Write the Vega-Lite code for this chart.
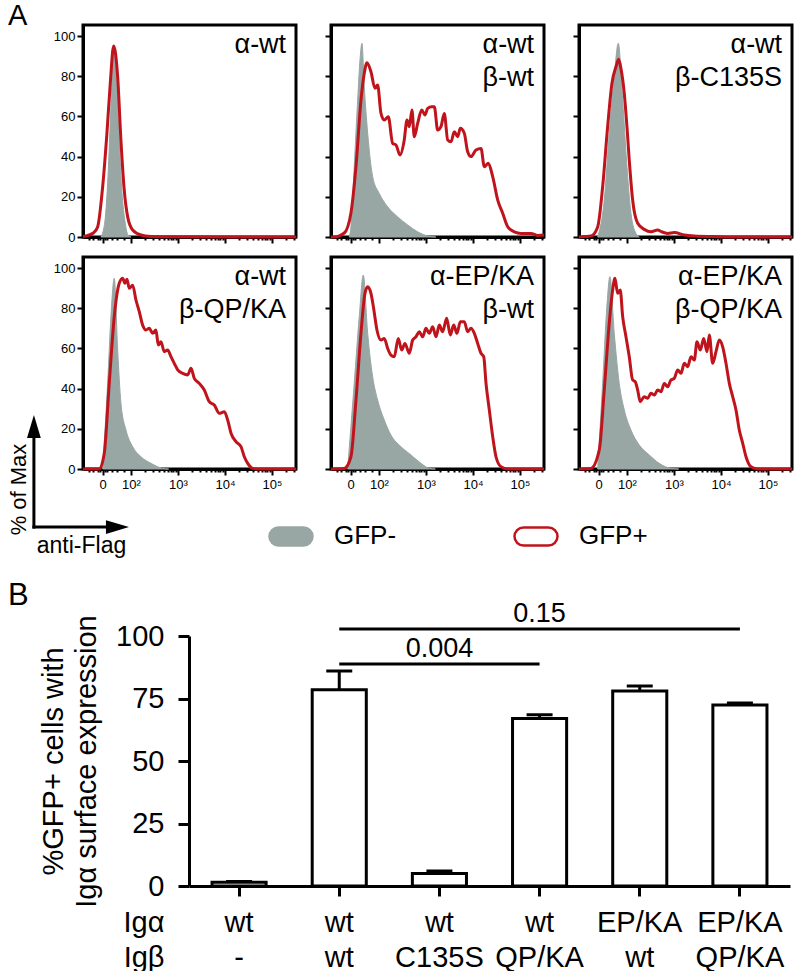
{
"$schema": "https://vega.github.io/schema/vega-lite/v6.json",
"padding": {"left": 5, "top": 0, "right": 0, "bottom": 0},
"background": "white",
"config": {
  "font": "Liberation Sans",
  "view": {"stroke": "black", "strokeWidth": 3},
  "axis": {"domainColor": "black", "domainWidth": 3, "tickColor": "black", "tickWidth": 2, "labelColor": "black", "labelFontSize": 13, "labelPadding": 2, "grid": false, "titleColor": "black", "titleFontWeight": "normal", "labelOverlap": false, "labelFlush": false, "zindex": 1},
  "legend": {"orient": "none", "legendX": 185, "legendY": 488, "direction": "horizontal", "padding": 0,
             "symbolType": "M-0.58,-0.42L0.58,-0.42A0.42,0.42 0 0 1 0.58,0.42L-0.58,0.42A0.42,0.42 0 0 1 -0.58,-0.42Z",
             "symbolSize": 1849, "symbolStrokeWidth": 2.5, "symbolOpacity": 1, "labelFontSize": 26, "labelOffset": 20, "columnPadding": 112, "labelColor": "black"},
  "title": {"fontWeight": "normal", "color": "black"},
  "text": {"color": "black"}
},
"datasets": {
  "gray": [
    {"p":1,"t":1.362,"y":0},{"p":1,"t":1.447,"y":8},{"p":1,"t":1.511,"y":30},{"p":1,"t":1.574,"y":65},{"p":1,"t":1.645,"y":94.7},{"p":1,"t":1.702,"y":75},{"p":1,"t":1.745,"y":50},{"p":1,"t":1.809,"y":22},{"p":1,"t":1.872,"y":8},{"p":1,"t":1.936,"y":1},{"p":1,"t":2.0,"y":0},
    {"p":2,"t":1.368,"y":0},{"p":2,"t":1.404,"y":5},{"p":2,"t":1.474,"y":35},{"p":2,"t":1.547,"y":68},{"p":2,"t":1.602,"y":89.7},{"p":2,"t":1.638,"y":96.4},{"p":2,"t":1.687,"y":75},{"p":2,"t":1.760,"y":51.7},{"p":2,"t":1.866,"y":30},{"p":2,"t":2.006,"y":21.7},{"p":2,"t":2.185,"y":15},{"p":2,"t":2.398,"y":10},{"p":2,"t":2.611,"y":6},{"p":2,"t":2.823,"y":2.6},{"p":2,"t":3.036,"y":0.5},{"p":2,"t":3.21,"y":0},
    {"p":3,"t":1.377,"y":0},{"p":3,"t":1.517,"y":18.4},{"p":3,"t":1.623,"y":51.6},{"p":3,"t":1.730,"y":79.8},{"p":3,"t":1.815,"y":96.4},{"p":3,"t":1.909,"y":68.2},{"p":3,"t":2.0,"y":35},{"p":3,"t":2.085,"y":11.8},{"p":3,"t":2.191,"y":1.8},{"p":3,"t":2.262,"y":0},
    {"p":4,"t":1.398,"y":0},{"p":4,"t":1.504,"y":42.6},{"p":4,"t":1.574,"y":75.8},{"p":4,"t":1.645,"y":94.9},{"p":4,"t":1.717,"y":59.2},{"p":4,"t":1.787,"y":32.7},{"p":4,"t":1.894,"y":19.4},{"p":4,"t":2.036,"y":11.1},{"p":4,"t":2.213,"y":6.1},{"p":4,"t":2.426,"y":2.8},{"p":4,"t":2.674,"y":0.3},{"p":4,"t":2.8,"y":0},
    {"p":5,"t":1.334,"y":0},{"p":5,"t":1.474,"y":42.6},{"p":5,"t":1.581,"y":75.8},{"p":5,"t":1.666,"y":96.5},{"p":5,"t":1.760,"y":67.5},{"p":5,"t":1.866,"y":45.9},{"p":5,"t":1.972,"y":34.3},{"p":5,"t":2.113,"y":24.4},{"p":5,"t":2.255,"y":16.9},{"p":5,"t":2.468,"y":11.1},{"p":5,"t":2.681,"y":7},{"p":5,"t":2.894,"y":2.8},{"p":5,"t":3.070,"y":0.3},{"p":5,"t":3.2,"y":0},
    {"p":6,"t":1.377,"y":0},{"p":6,"t":1.483,"y":42.6},{"p":6,"t":1.568,"y":79.1},{"p":6,"t":1.638,"y":95.7},{"p":6,"t":1.730,"y":67.5},{"p":6,"t":1.836,"y":42.6},{"p":6,"t":1.943,"y":29.4},{"p":6,"t":2.085,"y":19.4},{"p":6,"t":2.262,"y":11.9},{"p":6,"t":2.474,"y":7},{"p":6,"t":2.687,"y":2.8},{"p":6,"t":2.936,"y":0.3},{"p":6,"t":3.1,"y":0}
  ],
  "red": [
    {"p":1,"t":0.98,"y":0.2},{"p":1,"t":1.043,"y":0.5},{"p":1,"t":1.2,"y":2},{"p":1,"t":1.291,"y":5},{"p":1,"t":1.398,"y":25},{"p":1,"t":1.489,"y":51.7},{"p":1,"t":1.560,"y":76.5},{"p":1,"t":1.632,"y":95},{"p":1,"t":1.717,"y":79.8},{"p":1,"t":1.787,"y":48},{"p":1,"t":1.857,"y":23.4},{"p":1,"t":1.930,"y":10},{"p":1,"t":2.036,"y":3.5},{"p":1,"t":2.213,"y":1},{"p":1,"t":2.426,"y":0.3},{"p":1,"t":2.8,"y":0.1},{"p":1,"t":5.51,"y":0},
    {"p":2,"t":0.98,"y":0},{"p":2,"t":1.049,"y":0},{"p":2,"t":1.262,"y":2},{"p":2,"t":1.404,"y":12},{"p":2,"t":1.511,"y":35},{"p":2,"t":1.617,"y":68},{"p":2,"t":1.687,"y":81.4},{"p":2,"t":1.745,"y":86.7},{"p":2,"t":1.830,"y":82.2},{"p":2,"t":1.915,"y":74},{"p":2,"t":1.972,"y":75.6},{"p":2,"t":2.043,"y":61.5},{"p":2,"t":2.113,"y":58.2},{"p":2,"t":2.198,"y":59.9},{"p":2,"t":2.291,"y":46.6},{"p":2,"t":2.362,"y":45.8},{"p":2,"t":2.447,"y":40.8},{"p":2,"t":2.538,"y":48.3},{"p":2,"t":2.596,"y":58.2},{"p":2,"t":2.645,"y":54.9},{"p":2,"t":2.702,"y":63.2},{"p":2,"t":2.751,"y":49.9},{"p":2,"t":2.823,"y":56.5},{"p":2,"t":2.909,"y":63.2},{"p":2,"t":2.979,"y":60.7},{"p":2,"t":3.036,"y":64},{"p":2,"t":3.121,"y":64.8},{"p":2,"t":3.177,"y":64.8},{"p":2,"t":3.249,"y":53.2},{"p":2,"t":3.319,"y":54.9},{"p":2,"t":3.389,"y":61.5},{"p":2,"t":3.462,"y":48.3},{"p":2,"t":3.532,"y":47.4},{"p":2,"t":3.602,"y":52.4},{"p":2,"t":3.674,"y":49.9},{"p":2,"t":3.730,"y":54.1},{"p":2,"t":3.815,"y":51.6},{"p":2,"t":3.887,"y":42.4},{"p":2,"t":3.957,"y":40},{"p":2,"t":4.064,"y":43.3},{"p":2,"t":4.170,"y":44.1},{"p":2,"t":4.240,"y":35},{"p":2,"t":4.326,"y":36.7},{"p":2,"t":4.419,"y":30},{"p":2,"t":4.526,"y":18.4},{"p":2,"t":4.632,"y":11.8},{"p":2,"t":4.738,"y":5.1},{"p":2,"t":4.879,"y":2.6},{"p":2,"t":5.021,"y":1.8},{"p":2,"t":5.234,"y":1.8},{"p":2,"t":5.377,"y":0.8},{"p":2,"t":5.51,"y":1},
    {"p":3,"t":0.98,"y":0},{"p":3,"t":1.1,"y":0.2},{"p":3,"t":1.234,"y":0.5},{"p":3,"t":1.377,"y":5},{"p":3,"t":1.483,"y":25},{"p":3,"t":1.589,"y":54.9},{"p":3,"t":1.681,"y":76.5},{"p":3,"t":1.766,"y":84.7},{"p":3,"t":1.823,"y":88.4},{"p":3,"t":1.872,"y":83.9},{"p":3,"t":1.943,"y":71.5},{"p":3,"t":2.0,"y":54.9},{"p":3,"t":2.049,"y":38.3},{"p":3,"t":2.121,"y":18.4},{"p":3,"t":2.228,"y":6.8},{"p":3,"t":2.368,"y":3.8},{"p":3,"t":2.511,"y":2.6},{"p":3,"t":2.653,"y":3.5},{"p":3,"t":2.738,"y":2.6},{"p":3,"t":2.866,"y":1.8},{"p":3,"t":3.006,"y":2.2},{"p":3,"t":3.219,"y":1},{"p":3,"t":3.432,"y":0.5},{"p":3,"t":3.857,"y":0.2},{"p":3,"t":4.21,"y":0},{"p":3,"t":5.51,"y":0},
    {"p":4,"t":0.98,"y":0},{"p":4,"t":1.326,"y":0},{"p":4,"t":1.432,"y":7.8},{"p":4,"t":1.538,"y":42.6},{"p":4,"t":1.645,"y":75.8},{"p":4,"t":1.751,"y":92.4},{"p":4,"t":1.823,"y":94.9},{"p":4,"t":1.872,"y":92.4},{"p":4,"t":1.915,"y":94.4},{"p":4,"t":1.964,"y":89.9},{"p":4,"t":2.036,"y":91.5},{"p":4,"t":2.106,"y":84.1},{"p":4,"t":2.177,"y":78.3},{"p":4,"t":2.249,"y":71.6},{"p":4,"t":2.319,"y":69.2},{"p":4,"t":2.389,"y":70},{"p":4,"t":2.462,"y":67.5},{"p":4,"t":2.532,"y":69.2},{"p":4,"t":2.581,"y":61.7},{"p":4,"t":2.638,"y":63.3},{"p":4,"t":2.709,"y":58.4},{"p":4,"t":2.781,"y":59.2},{"p":4,"t":2.851,"y":55.9},{"p":4,"t":2.921,"y":52.6},{"p":4,"t":2.994,"y":49.3},{"p":4,"t":3.1,"y":47.6},{"p":4,"t":3.206,"y":46.8},{"p":4,"t":3.277,"y":50.1},{"p":4,"t":3.347,"y":45.1},{"p":4,"t":3.453,"y":42.6},{"p":4,"t":3.560,"y":39.3},{"p":4,"t":3.666,"y":33.5},{"p":4,"t":3.772,"y":31.8},{"p":4,"t":3.879,"y":27.7},{"p":4,"t":3.985,"y":28.5},{"p":4,"t":4.057,"y":24.4},{"p":4,"t":4.128,"y":17.8},{"p":4,"t":4.234,"y":13.6},{"p":4,"t":4.340,"y":11.1},{"p":4,"t":4.411,"y":6.1},{"p":4,"t":4.483,"y":2.8},{"p":4,"t":4.589,"y":0.3},{"p":4,"t":4.696,"y":0},{"p":4,"t":5.51,"y":0},
    {"p":5,"t":0.98,"y":0},{"p":5,"t":1.262,"y":0.3},{"p":5,"t":1.404,"y":6.1},{"p":5,"t":1.511,"y":34.3},{"p":5,"t":1.617,"y":67.5},{"p":5,"t":1.702,"y":87.4},{"p":5,"t":1.760,"y":90.7},{"p":5,"t":1.830,"y":87.4},{"p":5,"t":1.887,"y":79.9},{"p":5,"t":1.957,"y":69.2},{"p":5,"t":2.043,"y":64.2},{"p":5,"t":2.113,"y":65},{"p":5,"t":2.185,"y":60},{"p":5,"t":2.255,"y":56.7},{"p":5,"t":2.326,"y":55.9},{"p":5,"t":2.411,"y":65},{"p":5,"t":2.483,"y":59.2},{"p":5,"t":2.553,"y":62.5},{"p":5,"t":2.645,"y":57.6},{"p":5,"t":2.717,"y":64.2},{"p":5,"t":2.787,"y":65.8},{"p":5,"t":2.857,"y":68.3},{"p":5,"t":2.930,"y":65.8},{"p":5,"t":3.0,"y":70},{"p":5,"t":3.070,"y":67.5},{"p":5,"t":3.143,"y":70.8},{"p":5,"t":3.213,"y":65.8},{"p":5,"t":3.283,"y":71.6},{"p":5,"t":3.355,"y":68.3},{"p":5,"t":3.440,"y":75},{"p":5,"t":3.517,"y":66.7},{"p":5,"t":3.589,"y":71.6},{"p":5,"t":3.660,"y":67.5},{"p":5,"t":3.730,"y":73.3},{"p":5,"t":3.815,"y":73.3},{"p":5,"t":3.887,"y":68.3},{"p":5,"t":3.957,"y":70},{"p":5,"t":4.028,"y":67.5},{"p":5,"t":4.1,"y":62.5},{"p":5,"t":4.170,"y":57.6},{"p":5,"t":4.228,"y":55.9},{"p":5,"t":4.277,"y":42.6},{"p":5,"t":4.347,"y":29.4},{"p":5,"t":4.419,"y":16.1},{"p":5,"t":4.489,"y":6.1},{"p":5,"t":4.596,"y":1.1},{"p":5,"t":4.738,"y":0},{"p":5,"t":5.51,"y":0},
    {"p":6,"t":0.98,"y":0},{"p":6,"t":1.234,"y":0.3},{"p":6,"t":1.411,"y":9.5},{"p":6,"t":1.517,"y":39.3},{"p":6,"t":1.623,"y":72.5},{"p":6,"t":1.696,"y":89.1},{"p":6,"t":1.745,"y":94.9},{"p":6,"t":1.802,"y":87.4},{"p":6,"t":1.857,"y":89.1},{"p":6,"t":1.909,"y":75.8},{"p":6,"t":1.979,"y":65.8},{"p":6,"t":2.049,"y":55.9},{"p":6,"t":2.121,"y":44.3},{"p":6,"t":2.177,"y":43.4},{"p":6,"t":2.228,"y":39.3},{"p":6,"t":2.283,"y":33.5},{"p":6,"t":2.368,"y":36},{"p":6,"t":2.440,"y":35.2},{"p":6,"t":2.511,"y":37.7},{"p":6,"t":2.581,"y":36.8},{"p":6,"t":2.653,"y":39.3},{"p":6,"t":2.723,"y":38.5},{"p":6,"t":2.794,"y":42.6},{"p":6,"t":2.866,"y":40.9},{"p":6,"t":2.936,"y":44.3},{"p":6,"t":3.006,"y":45.1},{"p":6,"t":3.079,"y":49.3},{"p":6,"t":3.149,"y":47.6},{"p":6,"t":3.219,"y":52.6},{"p":6,"t":3.291,"y":50.9},{"p":6,"t":3.362,"y":55.9},{"p":6,"t":3.432,"y":54.2},{"p":6,"t":3.489,"y":63.3},{"p":6,"t":3.560,"y":59.2},{"p":6,"t":3.632,"y":65},{"p":6,"t":3.702,"y":58.4},{"p":6,"t":3.751,"y":66.7},{"p":6,"t":3.823,"y":52.6},{"p":6,"t":3.894,"y":58.4},{"p":6,"t":3.964,"y":64.2},{"p":6,"t":4.036,"y":60.8},{"p":6,"t":4.106,"y":52.6},{"p":6,"t":4.177,"y":42.6},{"p":6,"t":4.249,"y":36},{"p":6,"t":4.319,"y":29.4},{"p":6,"t":4.389,"y":19.4},{"p":6,"t":4.462,"y":12.8},{"p":6,"t":4.532,"y":6.1},{"p":6,"t":4.638,"y":1.1},{"p":6,"t":4.781,"y":0},{"p":6,"t":5.51,"y":0}
  ],
  "labels": [
    {"p":1,"label":"α-wt"},{"p":2,"label":"α-wt\nβ-wt"},{"p":3,"label":"α-wt\nβ-C135S"},
    {"p":4,"label":"α-wt\nβ-QP/KA"},{"p":5,"label":"α-EP/KA\nβ-wt"},{"p":6,"label":"α-EP/KA\nβ-QP/KA"}
  ],
  "arrows": [{"x":-0.064,"x2":1.5,"y":-28.9,"y2":-28.9},{"x":-0.064,"x2":-0.064,"y":-28.9,"y2":17}],
  "heads": [{"x":-0.064,"y":21.1,"d":"up"},{"x":1.713,"y":-28.9,"d":"right"}],
  "bars": [
    {"g":"wt|-","v":1.5,"hi":1.8},
    {"g":"wt|wt","v":78.5,"hi":86},
    {"g":"wt|C135S","v":5,"hi":6},
    {"g":"wt|QP/KA","v":67,"hi":68.5},
    {"g":"EP/KA|wt","v":78,"hi":80},
    {"g":"EP/KA|QP/KA","v":72.4,"hi":73.2}
  ],
  "sig": [
    {"a":"wt|wt","b":"wt|QP/KA","y":88.8,"m":"wt|C135S","ty":91.6,"p":"0.004"},
    {"a":"wt|wt","b":"EP/KA|QP/KA","y":102.8,"m":"wt|QP/KA","ty":105.6,"p":"0.15"}
  ]
},
"columns": 1,
"align": "none",
"spacing": 20,
"concat": [
  {
    "columns": 3,
    "spacing": {"row": 20, "column": 35},
    "bounds": "flush",
    "concat": [
      {"width": 213, "height": 212,
       "title": {"text": "A", "anchor": "start", "frame": "group", "fontSize": 29, "dx": -75, "offset": -6},
       "resolve": {"axis": {"x": "independent"}},
       "layer": [
        {"data": {"name": "gray"}, "transform": [{"filter": "datum.p == 1"}], "mark": {"type": "area", "interpolate": "monotone", "opacity": 1},
         "encoding": {
          "x": {"field": "t", "type": "quantitative", "scale": {"domain": [0.98, 5.51], "nice": false, "zero": false},
                "axis": {"title": null, "orient": "bottom", "labels": false, "values": [1.398, 2, 3, 4, 5], "tickSize": 6}},
          "y": {"field": "y", "type": "quantitative", "scale": {"domain": [0, 105.5], "nice": false},
                "axis": {"title": null, "labelOverlap": false, "values": [0,5,10,15,20,25,30,35,40,45,50,55,60,65,70,75,80,85,90,95,100], "labelExpr": "datum.value % 20 == 0 ? datum.label : ''",
                         "tickSize": {"condition": {"test": "datum.value % 20 == 0", "value": 6}, "value": 3}}},
          "fill": {"datum": "GFP-", "type": "nominal", "scale": {"domain": ["GFP-", "GFP+"], "range": ["#98a6a4", "#ffffff"]}, "legend": {"title": null}},
          "stroke": {"datum": "GFP-", "type": "nominal", "scale": {"domain": ["GFP-", "GFP+"], "range": ["#98a6a4", "#c0141c"]}, "legend": {"title": null}}
         }},
        {"data": {"name": "red"}, "transform": [{"filter": "datum.p == 1"}], "mark": {"type": "line", "interpolate": "monotone", "color": "#c0141c", "strokeWidth": 3},
         "encoding": {"x": {"field": "t", "type": "quantitative", "axis": {"title": null, "orient": "bottom", "labels": false, "domain": false, "tickSize": 3, "values": [1.1,1.2,1.3,1.35,1.45,1.5,1.6,1.7,1.85,2.301,2.477,2.602,2.699,2.778,2.845,2.903,2.954,3.301,3.477,3.602,3.699,3.778,3.845,3.903,3.954,4.301,4.477,4.602,4.699,4.778,4.845,4.903,4.954,5.301,5.477]}}, "y": {"field": "y", "type": "quantitative"}}},
        {"data": {"name": "labels"}, "transform": [{"filter": "datum.p == 1"}], "mark": {"type": "text", "align": "right", "baseline": "alphabetic", "fontSize": 27, "lineBreak": "\n", "lineHeight": 33},
         "encoding": {"text": {"field": "label"}, "x": {"datum": 5.3, "type": "quantitative", "axis": null}, "y": {"datum": 91.7, "type": "quantitative"}}}
       ]},
      {"width": 213, "height": 212,
       "resolve": {"axis": {"x": "independent"}},
       "layer": [
        {"data": {"name": "gray"}, "transform": [{"filter": "datum.p == 2"}], "mark": {"type": "area", "interpolate": "monotone", "opacity": 1},
         "encoding": {
          "x": {"field": "t", "type": "quantitative", "scale": {"domain": [0.98, 5.51], "nice": false, "zero": false},
                "axis": {"title": null, "orient": "bottom", "labels": false, "values": [1.398, 2, 3, 4, 5], "tickSize": 6}},
          "y": {"field": "y", "type": "quantitative", "scale": {"domain": [0, 105.5], "nice": false},
                "axis": {"title": null, "labels": false, "values": [0,5,10,15,20,25,30,35,40,45,50,55,60,65,70,75,80,85,90,95,100],
                         "tickSize": {"condition": {"test": "datum.value % 20 == 0", "value": 6}, "value": 3}}},
          "fill": {"datum": "GFP-", "type": "nominal", "legend": null},
          "stroke": {"datum": "GFP-", "type": "nominal", "legend": null}
         }},
        {"data": {"name": "red"}, "transform": [{"filter": "datum.p == 2"}], "mark": {"type": "line", "interpolate": "monotone", "color": "#c0141c", "strokeWidth": 3},
         "encoding": {"x": {"field": "t", "type": "quantitative", "axis": {"title": null, "orient": "bottom", "labels": false, "domain": false, "tickSize": 3, "values": [1.1,1.2,1.3,1.35,1.45,1.5,1.6,1.7,1.85,2.301,2.477,2.602,2.699,2.778,2.845,2.903,2.954,3.301,3.477,3.602,3.699,3.778,3.845,3.903,3.954,4.301,4.477,4.602,4.699,4.778,4.845,4.903,4.954,5.301,5.477]}}, "y": {"field": "y", "type": "quantitative"}}},
        {"data": {"name": "labels"}, "transform": [{"filter": "datum.p == 2"}], "mark": {"type": "text", "align": "right", "baseline": "alphabetic", "fontSize": 27, "lineBreak": "\n", "lineHeight": 33},
         "encoding": {"text": {"field": "label"}, "x": {"datum": 5.3, "type": "quantitative", "axis": null}, "y": {"datum": 91.7, "type": "quantitative"}}}
       ]},
      {"width": 213, "height": 212,
       "resolve": {"axis": {"x": "independent"}},
       "layer": [
        {"data": {"name": "gray"}, "transform": [{"filter": "datum.p == 3"}], "mark": {"type": "area", "interpolate": "monotone", "opacity": 1},
         "encoding": {
          "x": {"field": "t", "type": "quantitative", "scale": {"domain": [0.98, 5.51], "nice": false, "zero": false},
                "axis": {"title": null, "orient": "bottom", "labels": false, "values": [1.398, 2, 3, 4, 5], "tickSize": 6}},
          "y": {"field": "y", "type": "quantitative", "scale": {"domain": [0, 105.5], "nice": false},
                "axis": {"title": null, "labels": false, "values": [0,5,10,15,20,25,30,35,40,45,50,55,60,65,70,75,80,85,90,95,100],
                         "tickSize": {"condition": {"test": "datum.value % 20 == 0", "value": 6}, "value": 3}}},
          "fill": {"datum": "GFP-", "type": "nominal", "legend": null},
          "stroke": {"datum": "GFP-", "type": "nominal", "legend": null}
         }},
        {"data": {"name": "red"}, "transform": [{"filter": "datum.p == 3"}], "mark": {"type": "line", "interpolate": "monotone", "color": "#c0141c", "strokeWidth": 3},
         "encoding": {"x": {"field": "t", "type": "quantitative", "axis": {"title": null, "orient": "bottom", "labels": false, "domain": false, "tickSize": 3, "values": [1.1,1.2,1.3,1.35,1.45,1.5,1.6,1.7,1.85,2.301,2.477,2.602,2.699,2.778,2.845,2.903,2.954,3.301,3.477,3.602,3.699,3.778,3.845,3.903,3.954,4.301,4.477,4.602,4.699,4.778,4.845,4.903,4.954,5.301,5.477]}}, "y": {"field": "y", "type": "quantitative"}}},
        {"data": {"name": "labels"}, "transform": [{"filter": "datum.p == 3"}], "mark": {"type": "text", "align": "right", "baseline": "alphabetic", "fontSize": 27, "lineBreak": "\n", "lineHeight": 33},
         "encoding": {"text": {"field": "label"}, "x": {"datum": 5.3, "type": "quantitative", "axis": null}, "y": {"datum": 91.7, "type": "quantitative"}}}
       ]},
      {"width": 213, "height": 212,
       "resolve": {"axis": {"x": "independent"}},
       "layer": [
        {"data": {"name": "gray"}, "transform": [{"filter": "datum.p == 4"}], "mark": {"type": "area", "interpolate": "monotone", "opacity": 1},
         "encoding": {
          "x": {"field": "t", "type": "quantitative", "scale": {"domain": [0.98, 5.51], "nice": false, "zero": false},
                "axis": {"title": "anti-Flag", "titleFontSize": 23, "titleX": -2, "titleY": 76, "titleAlign": "center", "titleBaseline": "middle",
                         "orient": "bottom", "values": [1.398, 2, 3, 4, 5], "tickSize": 6, "labelPadding": 3, "labelOverlap": false,
                         "labelExpr": "datum.label == '2' ? '10²' : datum.label == '3' ? '10³' : datum.label == '4' ? '10⁴' : datum.label == '5' ? '10⁵' : '0'"}},
          "y": {"field": "y", "type": "quantitative", "scale": {"domain": [0, 105.5], "nice": false},
                "axis": {"title": "% of Max", "titleFontSize": 22, "titleX": -53, "titleY": 232, "labelOverlap": false,
                         "values": [0,5,10,15,20,25,30,35,40,45,50,55,60,65,70,75,80,85,90,95,100], "labelExpr": "datum.value % 20 == 0 ? datum.label : ''",
                         "tickSize": {"condition": {"test": "datum.value % 20 == 0", "value": 6}, "value": 3}}},
          "fill": {"datum": "GFP-", "type": "nominal", "legend": null},
          "stroke": {"datum": "GFP-", "type": "nominal", "legend": null}
         }},
        {"data": {"name": "red"}, "transform": [{"filter": "datum.p == 4"}], "mark": {"type": "line", "interpolate": "monotone", "color": "#c0141c", "strokeWidth": 3},
         "encoding": {"x": {"field": "t", "type": "quantitative", "axis": {"title": null, "orient": "bottom", "labels": false, "domain": false, "tickSize": 3, "values": [1.1,1.2,1.3,1.35,1.45,1.5,1.6,1.7,1.85,2.301,2.477,2.602,2.699,2.778,2.845,2.903,2.954,3.301,3.477,3.602,3.699,3.778,3.845,3.903,3.954,4.301,4.477,4.602,4.699,4.778,4.845,4.903,4.954,5.301,5.477]}}, "y": {"field": "y", "type": "quantitative"}}},
        {"data": {"name": "labels"}, "transform": [{"filter": "datum.p == 4"}], "mark": {"type": "text", "align": "right", "baseline": "alphabetic", "fontSize": 27, "lineBreak": "\n", "lineHeight": 33},
         "encoding": {"text": {"field": "label"}, "x": {"datum": 5.3, "type": "quantitative", "axis": null}, "y": {"datum": 91.7, "type": "quantitative"}}},
        {"data": {"name": "arrows"}, "mark": {"type": "rule", "strokeWidth": 3, "color": "black", "clip": false, "strokeCap": "square"},
         "encoding": {"x": {"field": "x", "type": "quantitative", "axis": null}, "x2": {"field": "x2"}, "y": {"field": "y", "type": "quantitative"}, "y2": {"field": "y2"}}},
        {"data": {"name": "heads"}, "mark": {"type": "point", "filled": true, "color": "black", "opacity": 1, "size": 529, "clip": false},
         "encoding": {"x": {"field": "x", "type": "quantitative", "axis": null}, "y": {"field": "y", "type": "quantitative"},
                      "shape": {"field": "d", "type": "nominal", "scale": {"domain": ["up", "right"], "range": ["M0,-1L0.6,1L-0.6,1Z", "M1,0L-1,0.6L-1,-0.6Z"]}, "legend": null}}}
       ]},
      {"width": 213, "height": 212,
       "resolve": {"axis": {"x": "independent"}},
       "layer": [
        {"data": {"name": "gray"}, "transform": [{"filter": "datum.p == 5"}], "mark": {"type": "area", "interpolate": "monotone", "opacity": 1},
         "encoding": {
          "x": {"field": "t", "type": "quantitative", "scale": {"domain": [0.98, 5.51], "nice": false, "zero": false},
                "axis": {"title": null, "orient": "bottom", "values": [1.398, 2, 3, 4, 5], "tickSize": 6, "labelPadding": 3, "labelOverlap": false,
                         "labelExpr": "datum.label == '2' ? '10²' : datum.label == '3' ? '10³' : datum.label == '4' ? '10⁴' : datum.label == '5' ? '10⁵' : '0'"}},
          "y": {"field": "y", "type": "quantitative", "scale": {"domain": [0, 105.5], "nice": false},
                "axis": {"title": null, "labels": false, "values": [0,5,10,15,20,25,30,35,40,45,50,55,60,65,70,75,80,85,90,95,100],
                         "tickSize": {"condition": {"test": "datum.value % 20 == 0", "value": 6}, "value": 3}}},
          "fill": {"datum": "GFP-", "type": "nominal", "legend": null},
          "stroke": {"datum": "GFP-", "type": "nominal", "legend": null}
         }},
        {"data": {"name": "red"}, "transform": [{"filter": "datum.p == 5"}], "mark": {"type": "line", "interpolate": "monotone", "color": "#c0141c", "strokeWidth": 3},
         "encoding": {"x": {"field": "t", "type": "quantitative", "axis": {"title": null, "orient": "bottom", "labels": false, "domain": false, "tickSize": 3, "values": [1.1,1.2,1.3,1.35,1.45,1.5,1.6,1.7,1.85,2.301,2.477,2.602,2.699,2.778,2.845,2.903,2.954,3.301,3.477,3.602,3.699,3.778,3.845,3.903,3.954,4.301,4.477,4.602,4.699,4.778,4.845,4.903,4.954,5.301,5.477]}}, "y": {"field": "y", "type": "quantitative"}}},
        {"data": {"name": "labels"}, "transform": [{"filter": "datum.p == 5"}], "mark": {"type": "text", "align": "right", "baseline": "alphabetic", "fontSize": 27, "lineBreak": "\n", "lineHeight": 33},
         "encoding": {"text": {"field": "label"}, "x": {"datum": 5.3, "type": "quantitative", "axis": null}, "y": {"datum": 91.7, "type": "quantitative"}}}
       ]},
      {"width": 213, "height": 212,
       "resolve": {"axis": {"x": "independent"}},
       "layer": [
        {"data": {"name": "gray"}, "transform": [{"filter": "datum.p == 6"}], "mark": {"type": "area", "interpolate": "monotone", "opacity": 1},
         "encoding": {
          "x": {"field": "t", "type": "quantitative", "scale": {"domain": [0.98, 5.51], "nice": false, "zero": false},
                "axis": {"title": null, "orient": "bottom", "values": [1.398, 2, 3, 4, 5], "tickSize": 6, "labelPadding": 3, "labelOverlap": false,
                         "labelExpr": "datum.label == '2' ? '10²' : datum.label == '3' ? '10³' : datum.label == '4' ? '10⁴' : datum.label == '5' ? '10⁵' : '0'"}},
          "y": {"field": "y", "type": "quantitative", "scale": {"domain": [0, 105.5], "nice": false},
                "axis": {"title": null, "labels": false, "values": [0,5,10,15,20,25,30,35,40,45,50,55,60,65,70,75,80,85,90,95,100],
                         "tickSize": {"condition": {"test": "datum.value % 20 == 0", "value": 6}, "value": 3}}},
          "fill": {"datum": "GFP-", "type": "nominal", "legend": null},
          "stroke": {"datum": "GFP-", "type": "nominal", "legend": null}
         }},
        {"data": {"name": "red"}, "transform": [{"filter": "datum.p == 6"}], "mark": {"type": "line", "interpolate": "monotone", "color": "#c0141c", "strokeWidth": 3},
         "encoding": {"x": {"field": "t", "type": "quantitative", "axis": {"title": null, "orient": "bottom", "labels": false, "domain": false, "tickSize": 3, "values": [1.1,1.2,1.3,1.35,1.45,1.5,1.6,1.7,1.85,2.301,2.477,2.602,2.699,2.778,2.845,2.903,2.954,3.301,3.477,3.602,3.699,3.778,3.845,3.903,3.954,4.301,4.477,4.602,4.699,4.778,4.845,4.903,4.954,5.301,5.477]}}, "y": {"field": "y", "type": "quantitative"}}},
        {"data": {"name": "labels"}, "transform": [{"filter": "datum.p == 6"}], "mark": {"type": "text", "align": "right", "baseline": "alphabetic", "fontSize": 27, "lineBreak": "\n", "lineHeight": 33},
         "encoding": {"text": {"field": "label"}, "x": {"datum": 5.3, "type": "quantitative", "axis": null}, "y": {"datum": 91.7, "type": "quantitative"}}}
       ]}
    ]
  },
  {
    "width": 707, "height": 250,
    "view": {"stroke": null},
    "title": {"text": "B", "anchor": "start", "frame": "group", "fontSize": 31, "dx": -75, "offset": -12},
    "layer": [
      {"data": {"name": "bars"}, "mark": {"type": "bar", "fill": "white", "stroke": "black", "strokeWidth": 3},
       "encoding": {
        "x": {"field": "g", "type": "nominal", "sort": null,
              "scale": {"domain": ["wt|-", "wt|wt", "wt|C135S", "wt|QP/KA", "EP/KA|wt", "EP/KA|QP/KA"], "range": [106, 707], "paddingInner": 0.46, "paddingOuter": 0.23},
              "axis": {"title": ["Igα", "Igβ"], "titleAnchor": "start", "titleAlign": "right", "titleX": 81, "titleY": 45, "titleBaseline": "alphabetic", "titleFontSize": 29, "titleLineHeight": 35,
                       "labelExpr": "split(datum.label, '|')", "labelAngle": 0, "labelFontSize": 29, "labelLineHeight": 35, "labelPadding": 12, "tickSize": 10, "tickWidth": 3, "domainWidth": 3}},
        "y": {"field": "v", "type": "quantitative", "scale": {"domain": [0, 100], "nice": false},
              "axis": {"offset": -106, "values": [0, 25, 50, 75, 100], "title": ["%GFP+ cells with", "Igα surface expression"], "titleFontSize": 29, "titleLineHeight": 33, "titlePadding": 14,
                       "labelFontSize": 29, "labelPadding": 14, "tickSize": 11, "tickWidth": 3, "domainWidth": 3}}
       }},
      {"data": {"name": "bars"}, "mark": {"type": "rule", "strokeWidth": 3, "color": "black"},
       "encoding": {"x": {"field": "g", "type": "nominal"}, "y": {"field": "v", "type": "quantitative"}, "y2": {"field": "hi"}}},
      {"data": {"name": "bars"}, "mark": {"type": "tick", "thickness": 3, "size": 26, "color": "black", "opacity": 1},
       "encoding": {"x": {"field": "g", "type": "nominal"}, "y": {"field": "hi", "type": "quantitative"}}},
      {"data": {"name": "sig"}, "mark": {"type": "rule", "strokeWidth": 3, "color": "black", "clip": false},
       "encoding": {"x": {"field": "a", "type": "nominal"}, "x2": {"field": "b"}, "y": {"field": "y", "type": "quantitative"}}},
      {"data": {"name": "sig"}, "mark": {"type": "text", "fontSize": 27, "baseline": "alphabetic", "clip": false},
       "encoding": {"x": {"field": "m", "type": "nominal"}, "y": {"field": "ty", "type": "quantitative"}, "text": {"field": "p"}}}
    ]
  }
]
}
